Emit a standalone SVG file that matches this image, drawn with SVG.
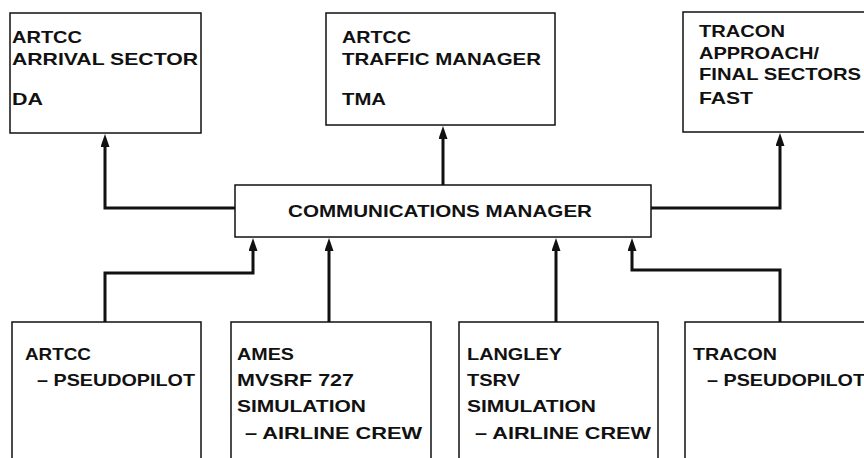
<svg xmlns="http://www.w3.org/2000/svg" width="864" height="458" viewBox="0 0 864 458">
<style>
.box{fill:#fff;stroke:#111;stroke-width:1.5}
.t{font-family:"Liberation Sans",Arial,sans-serif;font-weight:bold;font-size:16.5px;fill:#111}
.c{fill:none;stroke:#111;stroke-width:3;stroke-linejoin:miter}
</style>
<defs>
<marker id="ah" viewBox="0 0 13 9" refX="3" refY="4.5" markerWidth="13" markerHeight="9" markerUnits="userSpaceOnUse" orient="auto">
<path d="M0,0 L13,4.5 L0,9 Z" fill="#111"/>
</marker>
</defs>
<rect width="864" height="458" fill="#fff"/>
<g id="connectors">
<path class="c" d="M235,208 H105 V144" marker-end="url(#ah)"/>
<path class="c" d="M443,185 V136" marker-end="url(#ah)"/>
<path class="c" d="M651,208 H780 V143" marker-end="url(#ah)"/>
<path class="c" d="M105,322 V273 H253 V248" marker-end="url(#ah)"/>
<path class="c" d="M329,322 V248" marker-end="url(#ah)"/>
<path class="c" d="M556,322 V248" marker-end="url(#ah)"/>
<path class="c" d="M780,322 V270 H632 V248" marker-end="url(#ah)"/>
</g>
<g id="artcc-arrival">
<rect class="box" x="10" y="13" width="191" height="120"/>
<text class="t" x="12" y="43" textLength="70" lengthAdjust="spacingAndGlyphs">ARTCC</text>
<text class="t" x="12" y="65" textLength="186" lengthAdjust="spacingAndGlyphs">ARRIVAL SECTOR</text>
<text class="t" x="12" y="105" textLength="31" lengthAdjust="spacingAndGlyphs">DA</text>
</g>
<g id="artcc-traffic">
<rect class="box" x="326" y="13" width="229" height="112"/>
<text class="t" x="342" y="43" textLength="69" lengthAdjust="spacingAndGlyphs">ARTCC</text>
<text class="t" x="342" y="65" textLength="199" lengthAdjust="spacingAndGlyphs">TRAFFIC MANAGER</text>
<text class="t" x="342" y="105" textLength="44" lengthAdjust="spacingAndGlyphs">TMA</text>
</g>
<g id="tracon-final">
<rect class="box" x="683" y="12" width="200" height="120"/>
<text class="t" x="699" y="37" textLength="86" lengthAdjust="spacingAndGlyphs">TRACON</text>
<text class="t" x="699" y="59" textLength="120" lengthAdjust="spacingAndGlyphs">APPROACH/</text>
<text class="t" x="699" y="80" textLength="162" lengthAdjust="spacingAndGlyphs">FINAL SECTORS</text>
<text class="t" x="699" y="104" textLength="54" lengthAdjust="spacingAndGlyphs">FAST</text>
</g>
<g id="comm-manager">
<rect class="box" x="235" y="185" width="416" height="52"/>
<text class="t" x="288" y="217" textLength="304" lengthAdjust="spacingAndGlyphs">COMMUNICATIONS MANAGER</text>
</g>
<g id="artcc-pseudopilot">
<rect class="box" x="12" y="322" width="189" height="150"/>
<text class="t" x="25" y="360" textLength="66" lengthAdjust="spacingAndGlyphs">ARTCC</text>
<text class="t" x="37" y="386" textLength="158" lengthAdjust="spacingAndGlyphs">– PSEUDOPILOT</text>
</g>
<g id="ames">
<rect class="box" x="231" y="322" width="200" height="150"/>
<text class="t" x="237" y="360" textLength="57" lengthAdjust="spacingAndGlyphs">AMES</text>
<text class="t" x="237" y="386" textLength="117" lengthAdjust="spacingAndGlyphs">MVSRF 727</text>
<text class="t" x="237" y="412" textLength="129" lengthAdjust="spacingAndGlyphs">SIMULATION</text>
<text class="t" x="245" y="439" textLength="177" lengthAdjust="spacingAndGlyphs">– AIRLINE CREW</text>
</g>
<g id="langley">
<rect class="box" x="459" y="322" width="199" height="150"/>
<text class="t" x="467" y="360" textLength="95" lengthAdjust="spacingAndGlyphs">LANGLEY</text>
<text class="t" x="467" y="386" textLength="53" lengthAdjust="spacingAndGlyphs">TSRV</text>
<text class="t" x="467" y="412" textLength="129" lengthAdjust="spacingAndGlyphs">SIMULATION</text>
<text class="t" x="475" y="439" textLength="176" lengthAdjust="spacingAndGlyphs">– AIRLINE CREW</text>
</g>
<g id="tracon-pseudopilot">
<rect class="box" x="685" y="322" width="200" height="150"/>
<text class="t" x="693" y="360" textLength="84" lengthAdjust="spacingAndGlyphs">TRACON</text>
<text class="t" x="707" y="386" textLength="158" lengthAdjust="spacingAndGlyphs">– PSEUDOPILOT</text>
</g>
</svg>
